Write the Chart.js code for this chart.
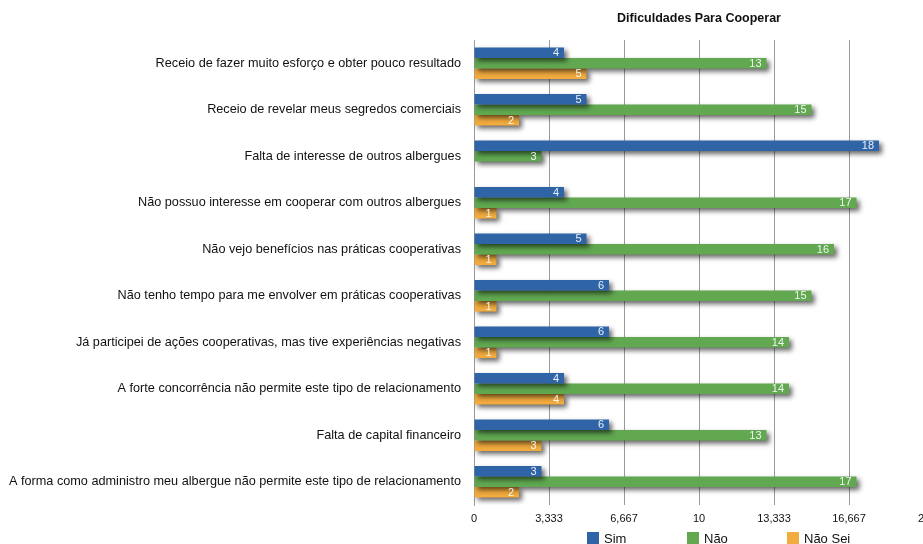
<!DOCTYPE html>
<html>
<head>
<meta charset="utf-8">
<script src="https://cdn.jsdelivr.net/npm/chart.js@4/dist/chart.umd.min.js"></script>
<style>
  html, body { margin: 0; padding: 0; background: #fff; overflow: hidden; }
  #wrap { width: 960px; height: 544px; }
</style>
</head>
<body>
<div id="wrap"><canvas id="graph1" width="960" height="544"></canvas></div>
<script>
// Data
const categories = [
    'Receio de fazer muito esforço e obter pouco resultado',
    'Receio de revelar meus segredos comerciais',
    'Falta de interesse de outros albergues',
    'Não possuo interesse em cooperar com outros albergues',
    'Não vejo benefícios nas práticas cooperativas',
    'Não tenho tempo para me envolver em práticas cooperativas',
    'Já participei de ações cooperativas, mas tive experiências negativas',
    'A forte concorrência não permite este tipo de relacionamento',
    'Falta de capital financeiro',
    'A forma como administro meu albergue não permite este tipo de relacionamento'
];
const sim    = [4, 5, 18, 4, 5, 6, 6, 4, 6, 3];
const nao    = [13, 15, 3, 17, 16, 15, 14, 14, 13, 17];
const naoSei = [5, 2, null, 1, 1, 1, 1, 4, 3, 2];
const tickLabels = ['0', '3,333', '6,667', '10', '13,333', '16,667', '20'];

const FONT = 'Liberation Sans, Arial, Helvetica, sans-serif';

// drop shadow under the bars, value labels, and a legend centred under the plot
const barExtras = {
    id: 'barExtras',
    beforeDatasetsDraw(chart) {
        const ctx = chart.ctx;
        ctx.save();
        ctx.shadowColor = 'rgba(0,0,0,0.6)';
        ctx.shadowBlur = 5;
        ctx.shadowOffsetX = 3;
        ctx.shadowOffsetY = 3;
    },
    afterDatasetsDraw(chart) {
        chart.ctx.restore();
        const ctx = chart.ctx;
        ctx.save();
        ctx.font = '11px ' + FONT;
        ctx.fillStyle = 'rgba(255,255,255,0.9)';
        ctx.textAlign = 'right';
        ctx.textBaseline = 'middle';
        chart.data.datasets.forEach((ds, i) => {
            chart.getDatasetMeta(i).data.forEach((bar, j) => {
                const v = ds.data[j];
                if (v === null || v === undefined) return;
                ctx.fillText(String(v), bar.x - 5, bar.y + 0.5);
            });
        });
        ctx.restore();
    },
    afterDraw(chart) {
        const ctx = chart.ctx;
        const area = chart.chartArea;
        const step = 100;
        const n = chart.data.datasets.length;
        const startX = (area.left + area.right) / 2 - step * (n - 1) / 2 - 12;
        const y = 538;
        ctx.save();
        ctx.font = '13px ' + FONT;
        ctx.textBaseline = 'middle';
        ctx.textAlign = 'left';
        chart.data.datasets.forEach((ds, i) => {
            const x = startX + i * step;
            ctx.fillStyle = ds.backgroundColor;
            ctx.fillRect(x, y - 6, 12, 12);
            ctx.fillStyle = '#111';
            ctx.fillText(ds.label, x + 17, y + 1);
        });
        ctx.restore();
    }
};

const ctx = document.getElementById('graph1');
const myChart = new Chart(ctx, {
    type: 'bar',
    data: {
        labels: categories,
        datasets: [
            { label: 'Sim', data: sim, backgroundColor: '#2f64a6' },
            { label: 'Não', data: nao, backgroundColor: '#61a851' },
            { label: 'Não Sei', data: naoSei, backgroundColor: '#f1ab3e' }
        ]
    },
    options: {
        indexAxis: 'y',
        responsive: false,
        animation: false,
        layout: { padding: { left: 0, right: 36, top: 7, bottom: 0 } },
        datasets: {
            bar: { barPercentage: 1.0, categoryPercentage: 0.68 }
        },
        scales: {
            x: {
                min: 0,
                max: 20,
                afterBuildTicks: (scale) => {
                    scale.ticks = tickLabels.map((t, i) => ({ value: i * 20 / 6 }));
                },
                afterFit: (scale) => { scale.height = 39; },
                ticks: {
                    callback: (val, index) => tickLabels[index],
                    color: '#111',
                    font: { family: FONT, size: 11 },
                    maxRotation: 0,
                    padding: 7
                },
                grid: { color: '#9a9a9a', lineWidth: 1, drawTicks: false },
                border: { display: false }
            },
            y: {
                afterFit: (scale) => { scale.width = 474; },
                ticks: {
                    color: '#111',
                    font: { family: FONT, size: 12.7 },
                    padding: 13
                },
                grid: { display: false, drawTicks: false },
                border: { display: true, color: '#9a9a9a' }
            }
        },
        plugins: {
            title: {
                display: true,
                fullSize: false,
                text: 'Dificuldades Para Cooperar',
                color: '#111',
                font: { family: FONT, size: 12.5, weight: 'bold' },
                padding: { top: 4, bottom: 14 }
            },
            legend: { display: false },
            tooltip: { enabled: false }
        }
    },
    plugins: [barExtras]
});
</script>
</body>
</html>
